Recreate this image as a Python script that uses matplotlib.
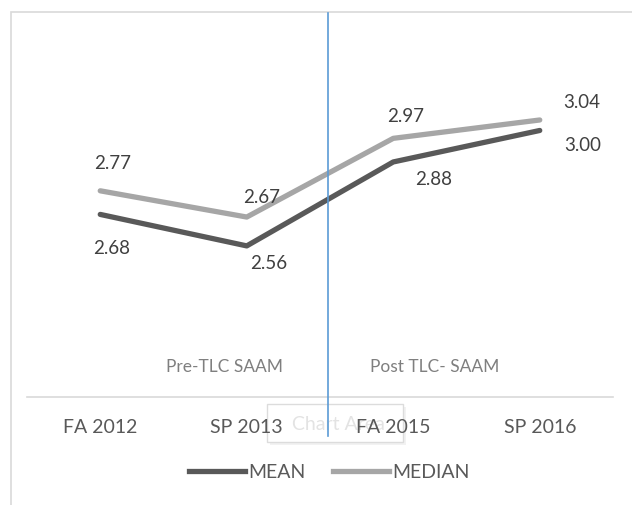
import matplotlib
matplotlib.use("Agg")
import matplotlib.pyplot as plt
from matplotlib.patches import Rectangle
from matplotlib.lines import Line2D

plt.rcParams['font.family'] = ['Lato', 'DejaVu Sans']

categories = ["FA 2012", "SP 2013", "FA 2015", "SP 2016"]
mean_vals = [2.68, 2.56, 2.88, 3.00]
median_vals = [2.77, 2.67, 2.97, 3.04]
period_labels = ["Pre-TLC SAAM", "Post TLC- SAAM"]

W, H = 632, 506
fig = plt.figure(figsize=(W / 100, H / 100), dpi=100)
fig.patch.set_facecolor("white")

def fx(px):
    return px / W

def fy(py):
    return 1 - py / H

ax = fig.add_axes([fx(27), fy(398), fx(613) - fx(27), fy(15) - fy(398)])
ax.set_zorder(2)
x = list(range(len(categories)))
mean_c = "#595959"
med_c = "#a6a6a6"
ax.plot(x, median_vals, color=med_c, lw=3.8, solid_capstyle="round", solid_joinstyle="round", zorder=3)
ax.plot(x, mean_vals, color=mean_c, lw=3.8, solid_capstyle="round", solid_joinstyle="round", zorder=3)
ax.set_xlim(-0.5, 3.5)
ax.set_ylim(1.984, 3.444)
ax.set_yticks([])
ax.set_xticks(x)
ax.set_xticklabels(categories, fontsize=14, color="#595959")
ax.tick_params(axis="x", length=0, pad=15)
for s in ["top", "left", "right"]:
    ax.spines[s].set_visible(False)
ax.spines["bottom"].set_color("#d9d9d9")
ax.spines["bottom"].set_linewidth(1.2)
ax.patch.set_alpha(0)

lab_c = "#404040"
fs = 13.5
mean_off = [(11, -33), (22, -17), (40, -17), (43, -14)]
for i, (v, (dx, dy)) in enumerate(zip(mean_vals, mean_off)):
    ax.annotate(f"{v:.2f}", (i, v), xytext=(dx, dy), textcoords="offset pixels",
                ha="center", va="center", fontsize=fs, color=lab_c)
med_off = [(12, 28), (15, 21), (12, 23), (42, 18)]
for i, (v, (dx, dy)) in enumerate(zip(median_vals, med_off)):
    ax.annotate(f"{v:.2f}", (i, v), xytext=(dx, dy), textcoords="offset pixels",
                ha="center", va="center", fontsize=fs, color=lab_c)

# figure frame
fig.add_artist(Rectangle((fx(11), fy(520)), fx(640) - fx(11), fy(13) - fy(520),
                         transform=fig.transFigure, fill=False, edgecolor="#d9d9d9", lw=1.2))

# period labels
fig.text(fx(225), fy(367), period_labels[0], ha="center", va="center", fontsize=12.5, color="#7f7f7f")
fig.text(fx(435), fy(367), period_labels[1], ha="center", va="center", fontsize=12.5, color="#7f7f7f")

# "Chart Area" tooltip artifact (with faint shadow)
fig.add_artist(Rectangle((fx(270), fy(446)), fx(406) - fx(270), fy(408) - fy(446),
                         transform=fig.transFigure, facecolor="#f2f2f2", edgecolor="none", zorder=0.4))
fig.add_artist(Rectangle((fx(267), fy(443)), fx(403) - fx(267), fy(405) - fy(443),
                         transform=fig.transFigure, facecolor="white", edgecolor="#dcdcdc", lw=1, zorder=0.5))
fig.text(fx(338), fy(425), "Chart Area", ha="center", va="center", fontsize=14, color="#e3e3e3", zorder=0.6)

# vertical blue divider
fig.add_artist(Line2D([fx(328), fx(328)], [fy(14), fy(437)], transform=fig.transFigure,
                      color="#5b9bd5", lw=1.2, zorder=5))

# legend
leg_handles = [Line2D([], [], color=mean_c, lw=3.8), Line2D([], [], color=med_c, lw=3.8)]
fig.legend(leg_handles, ["MEAN", "MEDIAN"], loc="center", bbox_to_anchor=(fx(329), fy(473)),
           ncol=2, frameon=False, fontsize=14, labelcolor="#595959", handlelength=2.9,
           handletextpad=0.15, columnspacing=1.4)

fig.savefig("out.png", dpi=100)
